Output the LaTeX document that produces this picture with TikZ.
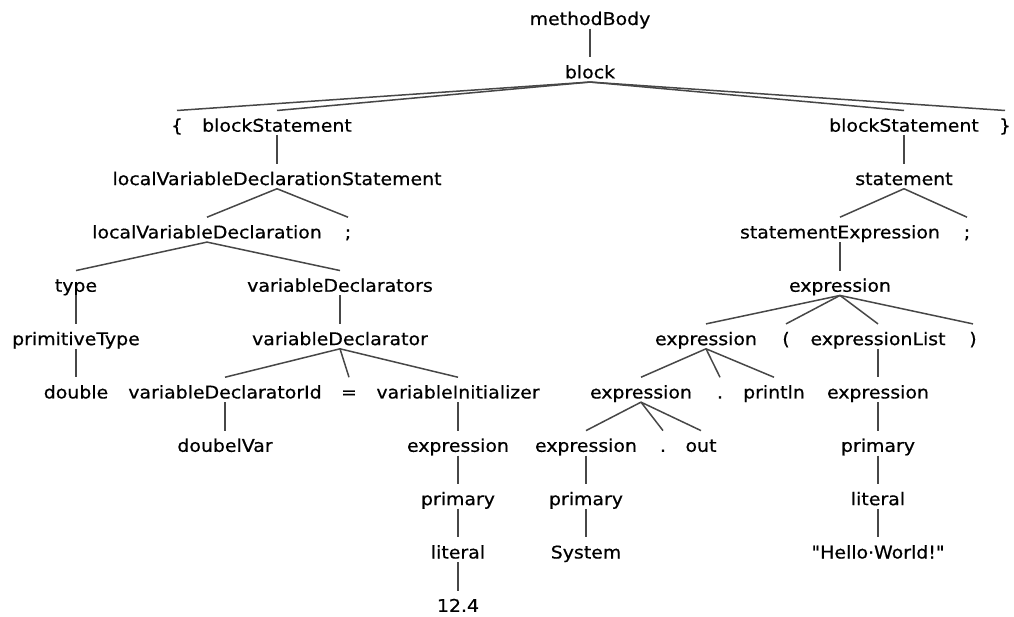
\documentclass[tikz,border=0pt]{standalone}
\usepackage{fontspec}
% plain straight quotes: no TeX ligature mapping on this family
\newfontfamily\treefont{DejaVu Sans}[FakeStretch=1.08, FakeBold=0.6]
\begin{document}
\begin{tikzpicture}[x=1pt,y=-1pt,
  tn/.style={anchor=base, inner sep=0pt, text height=21pt, text depth=3.5pt,
             font=\treefont\fontsize{17.5}{20}\selectfont},
  edge/.style={draw=black!72, line width=1.5pt}]
\useasboundingbox (0,0) rectangle (1014,617);
% baselines of the rows: 25 + 53.35 k
\node[tn] (mb)   at (590,25)      {methodBody};
\node[tn] (blk)  at (590,78.35)   {block};
% row 2
\node[tn] (lb)   at (177,131.7)   {\{};
\node[tn] (bs1)  at (277,131.7)   {blockStatement};
\node[tn] (bs2)  at (904,131.7)   {blockStatement};
\node[tn] (rb)   at (1005,131.7)  {\}};
% row 3
\node[tn] (lvds) at (277,185.05)  {localVariableDeclarationStatement};
\node[tn] (st)   at (904,185.05)  {statement};
% row 4
\node[tn] (lvd)  at (207,238.4)   {localVariableDeclaration};
\node[tn] (sc1)  at (348,238.4)   {;};
\node[tn] (se)   at (840,238.4)   {statementExpression};
\node[tn] (sc2)  at (967,238.4)   {;};
% row 5
\node[tn] (ty)   at (76,291.75)   {type};
\node[tn] (vds)  at (340,291.75)  {variableDeclarators};
\node[tn] (ex1)  at (840,291.75)  {expression};
% row 6
\node[tn] (pt)   at (76,345.1)    {primitiveType};
\node[tn] (vd)   at (340,345.1)   {variableDeclarator};
\node[tn] (ex2)  at (706,345.1)   {expression};
\node[tn] (lp)   at (786,345.1)   {(};
\node[tn] (el)   at (878,345.1)   {expressionList};
\node[tn] (rp)   at (973,345.1)   {)};
% row 7
\node[tn] (dbl)  at (76,398.45)   {double};
\node[tn] (vdi)  at (225,398.45)  {variableDeclaratorId};
\node[tn] (eq)   at (349,398.45)  {=};
\node[tn] (vi)   at (458,398.45)  {variableInitializer};
\node[tn] (ex3)  at (641,398.45)  {expression};
\node[tn] (dt1)  at (720,398.45)  {.};
\node[tn] (pl)   at (774,398.45)  {println};
\node[tn] (ex4)  at (878,398.45)  {expression};
% row 8
\node[tn] (dv)   at (225,451.8)   {doubelVar};
\node[tn] (ex5)  at (458,451.8)   {expression};
\node[tn] (ex6)  at (586,451.8)   {expression};
\node[tn] (dt2)  at (663,451.8)   {.};
\node[tn] (out)  at (701,451.8)   {out};
\node[tn] (pr1)  at (878,451.8)   {primary};
% row 9
\node[tn] (pr2)  at (458,505.15)  {primary};
\node[tn] (pr3)  at (586,505.15)  {primary};
\node[tn] (lt1)  at (878,505.15)  {literal};
% row 10
\node[tn] (lt2)  at (458,558.5)   {literal};
\node[tn] (sys)  at (586,558.5)   {System};
\node[tn] (hw)   at (878,558.5)   {"Hello·World!"};
% row 11
\node[tn] (num)  at (458,611.85)  {12.4};

% tree edges, parent bottom to child top
\foreach \p/\c in {mb/blk, blk/lb, blk/bs1, blk/bs2, blk/rb,
    bs1/lvds, bs2/st, lvds/lvd, lvds/sc1, st/se, st/sc2,
    lvd/ty, lvd/vds, se/ex1, ty/pt, vds/vd,
    ex1/ex2, ex1/lp, ex1/el, ex1/rp,
    pt/dbl, vd/vdi, vd/eq, vd/vi, ex2/ex3, ex2/dt1, ex2/pl, el/ex4,
    vdi/dv, vi/ex5, ex3/ex6, ex3/dt2, ex3/out, ex4/pr1,
    ex5/pr2, ex6/pr3, pr1/lt1, pr2/lt2, pr3/sys, lt1/hw, lt2/num}
  \draw[edge] (\p.south) -- (\c.north);
\end{tikzpicture}
\end{document}
